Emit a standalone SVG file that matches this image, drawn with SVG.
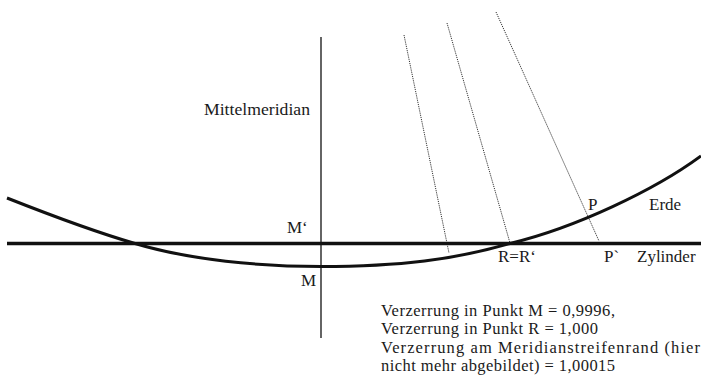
<svg xmlns="http://www.w3.org/2000/svg" width="701" height="376" viewBox="0 0 701 376">
<style>
text{font-family:"Liberation Serif","Times New Roman",serif;font-size:17px;fill:#1a1a1a}
.legend text{font-size:16.5px}
.dot{stroke:#333;stroke-width:1;stroke-dasharray:1.2 1;fill:none}
</style>
<rect width="701" height="376" fill="#fff"/>
<g id="connectors">
<line id="mittelmeridian-line" x1="321" y1="37" x2="321" y2="338" stroke="#111" stroke-width="1.3"/>
<line class="dot" x1="404" y1="35" x2="449" y2="253"/>
<line class="dot" x1="447" y1="23" x2="510" y2="243"/>
<line class="dot" x1="496" y1="12" x2="599" y2="241"/>
</g>
<g id="zylinder">
<line x1="7" y1="243.5" x2="701" y2="243.5" stroke="#111" stroke-width="3.5"/>
</g>
<g id="erde">
<path d="M7,198 C50,215 92,231 135,243.5 C190,260 260,266.5 321,266.5 C400,266.5 455,259.5 510,243.5 C575,228 655,190 701,156" fill="none" stroke="#111" stroke-width="3"/>
</g>
<g id="labels">
<text x="204" y="115" textLength="106" lengthAdjust="spacingAndGlyphs">Mittelmeridian</text>
<text x="287" y="233">M‘</text>
<text x="301" y="286">M</text>
<text x="498" y="262">R=R‘</text>
<text x="588" y="210">P</text>
<text x="649" y="210">Erde</text>
<text x="604" y="262">P`</text>
<text x="637" y="262">Zylinder</text>
</g>
<g id="legend" class="legend">
<text x="381" y="316" textLength="234">Verzerrung in Punkt M = 0,9996,</text>
<text x="381" y="334" textLength="217">Verzerrung in Punkt R = 1,000</text>
<text x="381" y="353" textLength="319">Verzerrung am Meridianstreifenrand (hier</text>
<text x="381" y="371" textLength="234">nicht mehr abgebildet) = 1,00015</text>
</g>
</svg>
